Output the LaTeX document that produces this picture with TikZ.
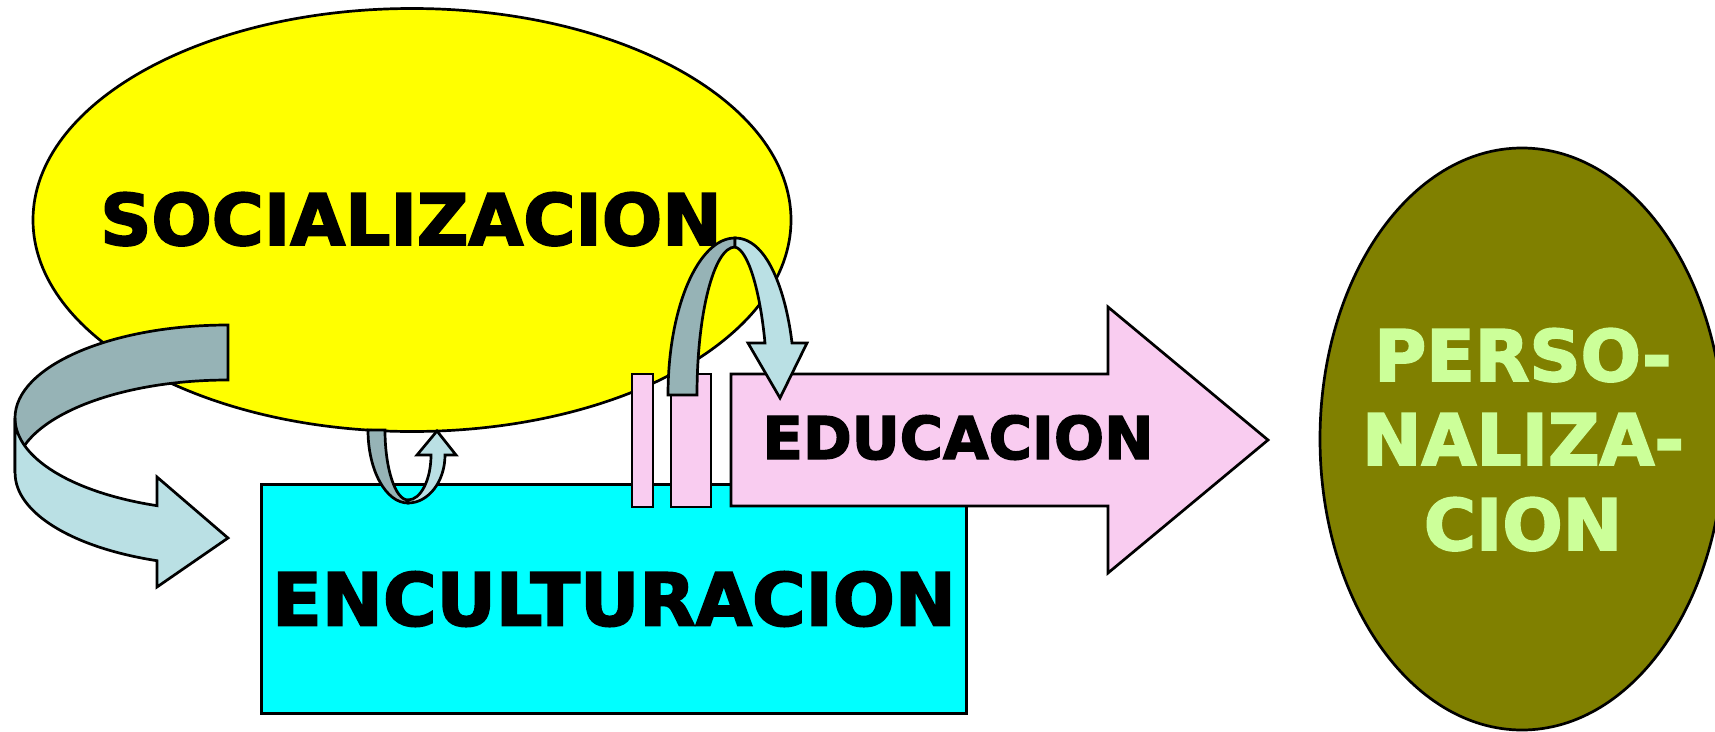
\documentclass[tikz,border=0pt]{standalone}
\usepackage{fontspec}
\setmainfont{DejaVu Sans}[BoldFeatures={FakeBold=2.5}]
\usetikzlibrary{shapes.geometric}

\definecolor{socyellow}{RGB}{255,255,0}
\definecolor{enccyan}{RGB}{0,255,255}
\definecolor{edupink}{RGB}{249,204,240}
\definecolor{persolive}{RGB}{128,128,0}
\definecolor{perstext}{RGB}{204,255,153}
\definecolor{ribbongray}{RGB}{150,179,182}
\definecolor{ribbonblue}{RGB}{186,224,228}

\begin{document}
\begin{tikzpicture}[x=1pt, y=1pt, line width=2.7pt,
	outlined/.style={draw=black, inner sep=0pt, outer sep=0pt},
	bandback/.style={draw=black, fill=ribbongray},
	bandfront/.style={draw=black, fill=ribbonblue},
	bigword/.style={inner sep=0pt, anchor=base, font=\bfseries\fontsize{71}{71}\selectfont}]

	\useasboundingbox (0,0) rectangle (1715,-731);

	\node[outlined, ellipse, fill=socyellow, minimum width=758, minimum height=423] (soc) at (412,-220) {};
	\node[outlined, rectangle, fill=enccyan, minimum width=705, minimum height=229,
		font=\bfseries\fontsize{73}{73}\selectfont] (enc) at (614,-599) {ENCULTURACION};
	\node[outlined, ellipse, fill=persolive, minimum width=404, minimum height=582] (pers) at (1522,-439) {};

	\foreach \xa/\xb in {632/653, 671/711}
	\draw[fill=edupink] (\xa,-374) rectangle (\xb,-507);
	\draw[fill=edupink] (731,-374) -- (1108,-374) -- (1108,-307) -- (1268,-440)
		-- (1108,-573) -- (1108,-506) -- (731,-506) -- cycle;

	\node[bigword] (soctext) at (411,-245) {SOCIALIZACION};
	\node[bigword, font=\bfseries\fontsize{59}{59}\selectfont] (edutext) at (958,-459) {EDUCACION};
	\foreach \word/\ybase [count=\i] in {PERSO-/381, NALIZA-/465, CION/550}
	\node[bigword, text=perstext] (pers\i) at (1523,-\ybase) {\word};

	\draw[bandback] (228,-325) arc[start angle=90, end angle=180, x radius=213, y radius=93]
		-- (15,-473) arc[start angle=180, end angle=90, x radius=213, y radius=93] -- cycle;
	\draw[bandfront] (15,-418) arc[start angle=180, end angle=250.5, x radius=213, y radius=93]
		-- (157,-477) -- (228,-538) -- (157,-587) -- (157,-560.7)
		arc[start angle=250.5, end angle=180, x radius=213, y radius=93] -- cycle;

	\draw[bandback] (368,-430) arc[start angle=180, end angle=270, x radius=40, y radius=73]
		-- (408,-500) arc[start angle=270, end angle=180, x radius=23, y radius=70] -- cycle;
	\draw[bandfront] (408,-503) arc[start angle=270, end angle=360, x radius=37, y radius=48]
		-- (456,-455) -- (437,-431) -- (417,-455) -- (431,-455)
		arc[start angle=0, end angle=-90, x radius=23, y radius=45] -- cycle;

	\draw[bandback] (668,-395) arc[start angle=180, end angle=90, x radius=67, y radius=157]
		-- (735,-247) arc[start angle=90, end angle=180, x radius=38, y radius=148] -- cycle;
	\draw[bandfront] (735,-238) .. controls (770,-238) and (787,-300) .. (792,-343)
		-- (807,-343) -- (780,-398) -- (748,-343) -- (765,-343)
		.. controls (760,-290) and (748,-250) .. (735,-247) -- cycle;
\end{tikzpicture}
\end{document}
